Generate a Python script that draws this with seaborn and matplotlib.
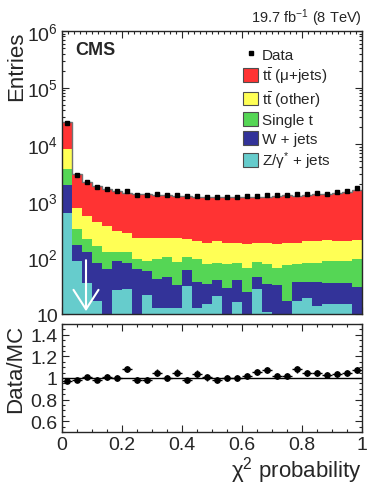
import numpy as np
import pandas as pd
import matplotlib.pyplot as plt
import seaborn as sns
from matplotlib.lines import Line2D
from matplotlib.patches import Patch
from matplotlib.ticker import MultipleLocator, LogLocator, FuncFormatter, NullFormatter

# binning of the chi2 probability
n_bins = 30
bin_edges = np.linspace(0, 1, n_bins + 1)
bin_centers = 0.5 * (bin_edges[:-1] + bin_edges[1:])
half_width = 0.5 * (bin_edges[1] - bin_edges[0])

# event counts per bin
data_counts = [23700, 2890, 2180, 1780, 1620, 1510, 1510, 1280, 1270, 1340,
               1260, 1280, 1200, 1200, 1170, 1150, 1170, 1150, 1200, 1230,
               1270, 1260, 1270, 1300, 1300, 1360, 1340, 1450, 1510, 1660]
ttbar_mujets = [16300, 2200, 1615, 1390, 1250, 1215, 1123, 1082, 1077, 1057,
                1041, 995, 1009, 963, 982, 982, 988, 972, 1002, 984,
                1003, 1061, 1067, 1022, 1053, 1104, 1103, 1206, 1250, 1340]
ttbar_other = [4500, 409, 334, 255, 229, 169, 152, 129, 132, 124,
               119, 141, 109, 98, 106, 112, 104, 99, 108, 99,
               102, 109, 106, 106, 110, 112, 119, 108, 110, 111]
single_top = [1726, 158, 86, 83, 64, 39, 44, 33, 29, 53,
              55, 51, 40, 56, 42, 39, 49, 39, 42, 38,
              42, 33, 55, 39, 44, 42, 50, 51, 50, 63]
wjets = [1288, 81, 87, 62, 62, 60, 51, 62, 36, 29,
         32, 19, 29, 24, 19, 19, 29, 24, 24, 17,
         23, 32, 17, 20, 18, 23, 20, 21, 20, 30]
zjets = [617, 85, 36, 17, 0, 27, 28, 0, 22, 13,
         13, 13, 31, 13, 15, 21, 0, 16, 0, 28,
         11, 0, 0, 17, 19, 14, 15, 15, 15, 0]

processes = ["ttbar_mujets", "ttbar_other", "single_top", "wjets", "zjets"]
labels = {
    "ttbar_mujets": r"$\mathrm{t\bar{t}}$ (μ+jets)",
    "ttbar_other": r"$\mathrm{t\bar{t}}$ (other)",
    "single_top": "Single t",
    "wjets": "W + jets",
    "zjets": r"Z/γ$^{*}$ + jets",
}
colors = {
    "ttbar_mujets": "#ff3333",
    "ttbar_other": "#ffff55",
    "single_top": "#55d655",
    "wjets": "#333399",
    "zjets": "#66cccc",
}

mc = {"ttbar_mujets": ttbar_mujets, "ttbar_other": ttbar_other,
      "single_top": single_top, "wjets": wjets, "zjets": zjets}
df = pd.DataFrame({
    "chi2prob": np.tile(bin_centers, len(processes)),
    "entries": np.concatenate([mc[p] for p in processes]),
    "process": np.repeat(processes, n_bins),
})

data = np.array(data_counts, dtype=float)
mc_total = np.sum([np.array(mc[p], dtype=float) for p in processes], axis=0)
ratio = data / mc_total
ratio_err = np.sqrt(data) / mc_total

sns.set_theme(style="ticks")
plt.rcParams["font.family"] = ["Liberation Sans", "DejaVu Sans"]
plt.rcParams["mathtext.fontset"] = "custom"
plt.rcParams["mathtext.rm"] = "Liberation Sans"
plt.rcParams["mathtext.it"] = "Liberation Sans:italic"
plt.rcParams["mathtext.bf"] = "Liberation Sans:bold"
plt.rcParams["axes.linewidth"] = 1.0

fig = plt.figure(figsize=(3.74, 4.85), dpi=100)
ax = fig.add_axes([62 / 374, 1 - 315 / 485, 300 / 374, 283 / 485])
ax2 = fig.add_axes([62 / 374, 1 - 433 / 485, 300 / 374, 108 / 485])

# **stacked backgrounds**
sns.histplot(data=df, x="chi2prob", weights="entries", hue="process",
             hue_order=processes, palette=colors, multiple="stack",
             element="step", bins=n_bins, binrange=(0, 1), linewidth=0,
             alpha=1, legend=False, ax=ax)
ax.stairs(mc_total, bin_edges, baseline=None, color="0.45", lw=1.0)
ax.errorbar(bin_centers, data, yerr=np.sqrt(data), fmt="s", ms=3.3,
            color="black", elinewidth=1, capsize=0, zorder=5)

ax.set_yscale("log")
ax.set_ylim(10, 1e6)
ax.set_xlim(0, 1)
ax.set_xlabel("")
ax.set_ylabel("Entries", fontsize=16, loc="top")
ax.yaxis.set_label_coords(-0.115, 1.0)

ax.yaxis.set_major_locator(LogLocator(base=10, numticks=10))
ax.yaxis.set_minor_locator(LogLocator(base=10, subs=np.arange(2, 10), numticks=20))
ax.yaxis.set_major_formatter(FuncFormatter(
    lambda v, pos: "10" if abs(v - 10) < 1e-6 else r"$10^{%d}$" % round(np.log10(v))))
ax.yaxis.set_minor_formatter(NullFormatter())
ax.xaxis.set_major_locator(MultipleLocator(0.2))
ax.xaxis.set_minor_locator(MultipleLocator(0.02))
ax.tick_params(axis="x", labelbottom=False)

# cut marker
ax.annotate("", xy=(0.08, 10), xytext=(0.08, 100),
            arrowprops=dict(arrowstyle="->,head_length=0.7,head_width=0.45",
                            color="white", lw=1.5, mutation_scale=20))

ax.text(0.043, 0.936, "CMS", transform=ax.transAxes, fontsize=13,
        fontweight="bold", ha="left", va="center")
fig.text(362 / 374, 1 - 18 / 485, r"19.7 fb$^{-1}$ (8 TeV)", fontsize=10.5,
         ha="right", va="center")

handles = [Line2D([], [], marker="s", ls="none", color="black", ms=3.3)]
handles += [Patch(facecolor=colors[p], edgecolor="0.3", lw=0.8) for p in processes]
ax.legend(handles, ["Data"] + [labels[p] for p in processes], loc="upper left",
          bbox_to_anchor=((243 - 62) / 300, (315 - 48) / 283), frameon=False,
          fontsize=11, handlelength=1.0, handleheight=1.0, handletextpad=0.25,
          labelspacing=0.23, borderpad=0, borderaxespad=0)

# **ratio panel**
ax2.axhline(1.0, color="black", lw=1.0)
ax2.errorbar(bin_centers, ratio, xerr=half_width, yerr=ratio_err, fmt="o",
             ms=3.8, color="black", elinewidth=1, capsize=0)
ax2.set_xlim(0, 1)
ax2.set_ylim(0.5, 1.5)
ax2.xaxis.set_major_locator(MultipleLocator(0.2))
ax2.xaxis.set_minor_locator(MultipleLocator(0.05))
ax2.yaxis.set_major_locator(MultipleLocator(0.2))
ax2.yaxis.set_minor_locator(MultipleLocator(0.05))
ax2.xaxis.set_major_formatter(FuncFormatter(lambda v, pos: "%g" % round(v, 2)))
ax2.yaxis.set_major_formatter(FuncFormatter(lambda v, pos: "%g" % round(v, 2)))
ax2.set_ylabel("Data/MC", fontsize=16, loc="top")
ax2.yaxis.set_label_coords(-0.12, 1.0)
ax2.set_xlabel(r"χ$^{2}$ probability", fontsize=16, loc="right", labelpad=1)

for a in (ax, ax2):
    a.tick_params(which="both", direction="in", top=True, right=True,
                  labelsize=14, width=0.8, pad=3)
    a.tick_params(which="major", length=5)
    a.tick_params(which="minor", length=2.5)

plt.savefig("out.png", dpi=100)
